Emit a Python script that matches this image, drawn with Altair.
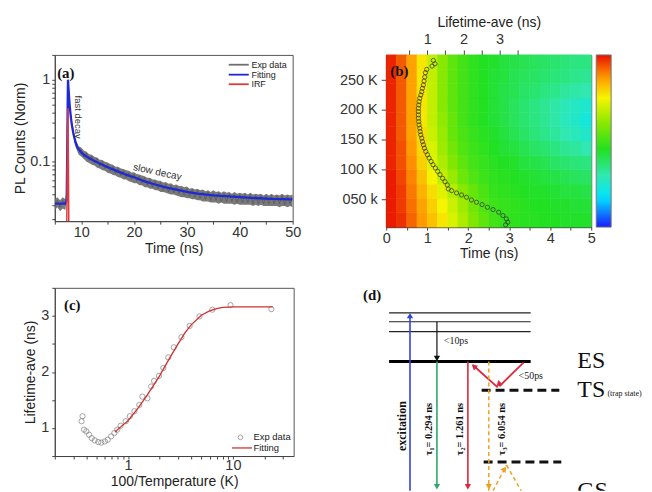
import altair as alt
import pandas as pd

SANS = "Liberation Sans"
SERIF = "Liberation Serif"

# ---------------- (a) PL decay ----------------
exp_t = [5.0, 5.5, 6.0, 6.5, 7.0, 7.25, 7.4, 7.5, 7.6, 7.8, 8.0, 8.2, 8.5, 8.8, 9.1, 9.5,
         10.0, 10.5, 11.0, 11.5, 12.0, 12.5, 13.0, 13.5, 14.0, 14.5, 15.0, 15.5, 16.0, 16.5,
         17.0, 17.5, 18.0, 18.5, 19.0, 19.5, 20.0, 20.5, 21.0, 21.5, 22.0, 22.5, 23.0, 23.5,
         24.0, 24.5, 25.0, 25.5, 26.0, 26.5, 27.0, 27.5, 28.0, 28.5, 29.0, 29.5, 30.0, 30.5,
         31.0, 31.5, 32.0, 32.5, 33.0, 33.5, 34.0, 34.5, 35.0, 35.5, 36.0, 36.5, 37.0, 37.5,
         38.0, 38.5, 39.0, 39.5, 40.0, 40.5, 41.0, 41.5, 42.0, 42.5, 43.0, 43.5, 44.0, 44.5,
         45.0, 45.5, 46.0, 46.5, 47.0, 47.5, 48.0, 48.5, 49.0, 49.5, 50.0]
exp_hi = [0.035, 0.037, 0.034, 0.037, 0.035, 0.046, 0.33, 1.02, 0.84, 0.55, 0.41, 0.33, 0.255, 0.20, 0.178, 0.155,
          0.150, 0.137, 0.133, 0.124, 0.122, 0.115, 0.113, 0.106, 0.105, 0.100, 0.098, 0.094, 0.092, 0.087,
          0.087, 0.083, 0.082, 0.079, 0.078, 0.074, 0.075, 0.071, 0.070, 0.068, 0.067, 0.064, 0.064, 0.061,
          0.061, 0.059, 0.059, 0.056, 0.057, 0.054, 0.055, 0.052, 0.053, 0.051, 0.051, 0.049, 0.050, 0.047,
          0.048, 0.046, 0.047, 0.045, 0.046, 0.044, 0.045, 0.043, 0.045, 0.043, 0.044, 0.042, 0.044, 0.042,
          0.043, 0.041, 0.043, 0.041, 0.042, 0.041, 0.042, 0.040, 0.042, 0.040, 0.041, 0.040, 0.041, 0.039,
          0.041, 0.039, 0.041, 0.039, 0.040, 0.039, 0.041, 0.039, 0.040, 0.039, 0.040]
exp_lo = [0.026, 0.028, 0.025, 0.027, 0.026, 0.034, 0.26, 0.94, 0.74, 0.47, 0.35, 0.27, 0.21, 0.16, 0.142, 0.123,
          0.116, 0.108, 0.100, 0.097, 0.092, 0.090, 0.085, 0.083, 0.079, 0.078, 0.073, 0.072, 0.069, 0.068,
          0.065, 0.064, 0.061, 0.061, 0.058, 0.057, 0.055, 0.055, 0.052, 0.052, 0.049, 0.049, 0.047, 0.047,
          0.045, 0.045, 0.043, 0.043, 0.042, 0.041, 0.040, 0.040, 0.039, 0.038, 0.037, 0.037, 0.036, 0.036,
          0.035, 0.035, 0.034, 0.034, 0.033, 0.033, 0.033, 0.032, 0.032, 0.032, 0.031, 0.032, 0.031, 0.031,
          0.031, 0.031, 0.030, 0.031, 0.030, 0.030, 0.030, 0.030, 0.030, 0.029, 0.030, 0.029, 0.030, 0.029,
          0.029, 0.029, 0.029, 0.029, 0.029, 0.028, 0.029, 0.029, 0.028, 0.029, 0.028]
exp_v = [0.029, 0.034, 0.028, 0.034, 0.030, 0.042, 0.30, 0.98, 0.80, 0.52, 0.38, 0.30, 0.235, 0.18, 0.16, 0.14,
         0.142, 0.114, 0.128, 0.104, 0.118, 0.096, 0.110, 0.088, 0.101, 0.083, 0.094, 0.077, 0.088, 0.072,
         0.083, 0.068, 0.078, 0.064, 0.074, 0.061, 0.071, 0.058, 0.067, 0.055, 0.064, 0.052, 0.061, 0.049,
         0.058, 0.047, 0.056, 0.045, 0.054, 0.043, 0.052, 0.042, 0.050, 0.041, 0.048, 0.039, 0.047, 0.038,
         0.046, 0.037, 0.045, 0.036, 0.043, 0.035, 0.043, 0.034, 0.042, 0.034, 0.042, 0.033, 0.041, 0.033,
         0.041, 0.033, 0.040, 0.032, 0.040, 0.032, 0.040, 0.032, 0.040, 0.031, 0.039, 0.031, 0.039, 0.031,
         0.039, 0.031, 0.039, 0.031, 0.039, 0.031, 0.039, 0.030, 0.038, 0.031, 0.038]
fit_a_t = [5, 6, 7, 7.25, 7.35, 7.45, 7.5, 7.6, 7.8, 8.0, 8.2, 8.5, 8.9, 9.3, 9.8, 10.5, 11, 12, 13, 14,
           15, 16, 17, 18, 19, 20, 22, 24, 26, 28, 30, 32, 35, 38, 42, 46, 50]
fit_a_v = [0.031, 0.031, 0.031, 0.034, 0.12, 0.6, 1.0, 0.78, 0.50, 0.37, 0.29, 0.225, 0.175, 0.15, 0.135,
           0.122, 0.116, 0.107, 0.099, 0.092, 0.086, 0.081, 0.076, 0.072, 0.068, 0.065, 0.058, 0.053,
           0.049, 0.046, 0.043, 0.041, 0.039, 0.038, 0.0365, 0.0355, 0.035]
irf_t = [7.2, 7.3, 7.4, 7.5, 7.6, 7.7]
irf_v = [0.005, 0.03, 0.2, 0.45, 0.06, 0.005]
a_series = ["Exp data", "Fitting", "IRF"]
a_colors = ["#6f6f6f", "#1f2ad6", "#e23a3a"]
a_leg_x1 = [37.9, 37.9, 37.9]
a_leg_x2 = [41.7, 41.7, 41.7]
a_leg_y = [1.52, 1.15, 0.88]
a_leg_tx = [42.2, 42.2, 42.2]

a_yticks = [0.02, 0.03, 0.04, 0.05, 0.06, 0.07, 0.08, 0.09, 0.1, 0.2, 0.3, 0.4, 0.5, 0.6, 0.7, 0.8, 0.9, 1, 2]
a_xticks = [5, 10, 15, 20, 25, 30, 35, 40, 45, 50]

# ---------------- (b) heat map ----------------
hm_t_edges = [0.0, 0.25, 0.5, 0.75, 1.0, 1.25, 1.5, 1.75, 2.0, 2.25, 2.5, 2.75, 3.0, 3.25, 3.5,
              3.75, 4.0, 4.25, 4.5, 4.75, 5.0]
hm_T_edges = [4, 28, 52, 76, 100, 124, 148, 172, 196, 220, 244, 268, 292]
hm_rows = [
    [0.99, 0.97, 0.92, 0.87, 0.82, 0.77, 0.71, 0.65, 0.59, 0.54, 0.50, 0.48, 0.47, 0.46, 0.46, 0.45, 0.45, 0.44, 0.44, 0.44],
    [0.99, 0.96, 0.91, 0.86, 0.80, 0.75, 0.69, 0.63, 0.57, 0.52, 0.49, 0.48, 0.47, 0.46, 0.45, 0.45, 0.44, 0.44, 0.43, 0.43],
    [0.99, 0.96, 0.90, 0.84, 0.78, 0.72, 0.66, 0.60, 0.55, 0.51, 0.48, 0.47, 0.46, 0.45, 0.44, 0.44, 0.43, 0.42, 0.42, 0.41],
    [0.99, 0.95, 0.89, 0.82, 0.75, 0.68, 0.62, 0.56, 0.52, 0.49, 0.47, 0.46, 0.45, 0.44, 0.43, 0.42, 0.41, 0.40, 0.39, 0.38],
    [0.98, 0.94, 0.88, 0.80, 0.72, 0.65, 0.59, 0.54, 0.50, 0.48, 0.46, 0.45, 0.44, 0.42, 0.41, 0.40, 0.38, 0.37, 0.36, 0.35],
    [0.98, 0.94, 0.87, 0.79, 0.71, 0.63, 0.57, 0.52, 0.49, 0.47, 0.45, 0.43, 0.42, 0.40, 0.38, 0.37, 0.35, 0.33, 0.32, 0.30],
    [0.98, 0.93, 0.86, 0.78, 0.69, 0.62, 0.55, 0.51, 0.48, 0.46, 0.44, 0.42, 0.40, 0.38, 0.36, 0.34, 0.32, 0.30, 0.28, 0.26],
    [0.98, 0.93, 0.86, 0.77, 0.68, 0.61, 0.55, 0.50, 0.47, 0.45, 0.43, 0.41, 0.39, 0.37, 0.35, 0.33, 0.31, 0.28, 0.26, 0.23],
    [0.98, 0.93, 0.86, 0.77, 0.68, 0.60, 0.54, 0.50, 0.47, 0.45, 0.43, 0.41, 0.39, 0.37, 0.35, 0.33, 0.31, 0.29, 0.27, 0.25],
    [0.98, 0.93, 0.86, 0.77, 0.68, 0.60, 0.54, 0.50, 0.47, 0.45, 0.43, 0.41, 0.40, 0.38, 0.37, 0.35, 0.34, 0.32, 0.31, 0.30],
    [0.98, 0.93, 0.86, 0.77, 0.68, 0.60, 0.54, 0.50, 0.47, 0.45, 0.43, 0.42, 0.40, 0.39, 0.38, 0.37, 0.36, 0.35, 0.34, 0.33],
    [0.98, 0.93, 0.86, 0.77, 0.68, 0.60, 0.54, 0.50, 0.47, 0.45, 0.44, 0.42, 0.41, 0.40, 0.39, 0.38, 0.37, 0.36, 0.35, 0.35],
]
hm_stops = [0.0, 0.17, 0.30, 0.45, 0.60, 0.75, 0.87, 1.0]
hm_colors = ["#1a1aff", "#00e6ff", "#30e8b0", "#22e022", "#88e800", "#f5f500", "#ff9a00", "#e81000"]

b_lifetime = [1.166, 1.212, 1.129, 0.983, 0.946, 0.928, 0.909, 0.890, 0.863, 0.845, 0.818, 0.790, 0.771,
              0.762, 0.753, 0.753, 0.753, 0.753, 0.762, 0.771, 0.790, 0.799, 0.818, 0.845, 0.863, 0.890,
              0.918, 0.956, 1.001, 1.047, 1.102, 1.157, 1.221, 1.286, 1.350, 1.423, 1.488, 1.551, 1.579,
              1.672, 1.809, 1.947, 2.085, 2.222, 2.360, 2.515, 2.663, 2.818, 2.975, 3.094, 3.187, 3.231, 3.168]
b_temp = [282.8, 277.2, 273.3, 267.8, 262.2, 255.0, 248.3, 241.7, 236.1, 230.5, 225.0, 219.5, 213.8,
          208.3, 202.8, 197.2, 191.7, 186.1, 180.5, 175.0, 169.5, 163.8, 158.3, 152.8, 147.2, 141.7,
          136.1, 130.5, 125.0, 119.5, 113.8, 108.3, 102.8, 97.2, 91.7, 85.6, 80.0, 74.4, 67.8,
          65.0, 61.1, 57.8, 53.9, 49.4, 45.6, 41.7, 37.2, 33.3, 28.9, 23.3, 17.8, 12.2, 7.8]

# ---------------- (c) lifetime vs 100/T ----------------
c_x = [0.368, 0.36, 0.38, 0.40, 0.425, 0.45, 0.48, 0.52, 0.555, 0.60, 0.64, 0.69, 0.74, 0.79, 0.85,
       0.95, 1.04, 1.15, 1.28, 1.37, 1.53, 1.66, 1.77, 1.97, 2.17, 2.42, 2.73, 3.23, 3.87, 4.8, 6.37, 9.5, 23.3]
c_y = [1.21, 1.12, 0.97, 0.94, 0.88, 0.82, 0.78, 0.75, 0.74, 0.76, 0.79, 0.85, 0.91, 0.97, 1.04,
       1.12, 1.21, 1.30, 1.41, 1.56, 1.53, 1.74, 1.84, 1.93, 2.07, 2.26, 2.44, 2.62, 2.82, 2.99, 3.11, 3.19, 3.12]
fit_c_x = [0.75, 0.85, 1.0, 1.25, 1.5, 1.75, 2.0, 2.5, 3.0, 3.5, 4.0, 5.0, 6.0, 7.0, 8.0, 10.0, 15.0, 24.0]
fit_c_y = [0.93, 1.02, 1.13, 1.36, 1.57, 1.76, 1.93, 2.25, 2.50, 2.70, 2.84, 3.01, 3.09, 3.13, 3.15, 3.16, 3.16, 3.16]
c_xticks = [0.2, 0.3, 0.4, 0.5, 0.6, 0.7, 0.8, 0.9, 1, 2, 3, 4, 5, 6, 7, 8, 9, 10, 20, 30]
c_yticks = [0.5, 1, 1.5, 2, 2.5, 3, 3.5]

# ---------------- (d) energy-level scheme ----------------
seg_x1 = [12.8, 12.8, 12.8, 12.8, 20.1, 29.5, 29.5, 40.3, 59.7, 50.7]
seg_y1 = [87.7, 83.3, 78.4, 63.7, -5.0, 83.3, 63.7, 63.7, 63.2, 51.0]
seg_x2 = [62.2, 62.2, 62.2, 62.2, 20.1, 29.5, 29.5, 40.3, 51.3, 42.0]
seg_y2 = [87.7, 83.3, 78.4, 63.7, 86.0, 66.0, 3.0, 3.0, 51.5, 62.0]
seg_col = ["#222222", "#222222", "#222222", "#000000", "#3344dd", "#111111", "#2da866", "#e0263a", "#e0263a", "#e0263a"]
seg_w = [1.2, 1.2, 1.2, 3.0, 1.6, 1.2, 1.6, 1.6, 1.8, 1.8]
dash_x1 = [45.1, 45.8]
dash_x2 = [72.2, 72.9]
dash_y = [49.5, 14.2]
or_x1 = [47.6, 47.9, 53.8]
or_y1 = [63.7, -3.0, 12.7]
or_x2 = [47.6, 53.8, 60.1]
or_y2 = [-5.0, 12.7, -3.0]
ah_x = [20.1, 29.5, 29.5, 40.3, 51.0, 42.4, 53.1, 47.6]
ah_y = [86.3, 65.2, 2.0, 2.0, 52.5, 61.3, 10.8, 2.0]
ah_ang = [0, 180, 180, 180, 226, 311, 35, 180]
ah_col = ["#3344dd", "#111111", "#2da866", "#e0263a", "#e0263a", "#e0263a", "#f0a020", "#f0a020"]
lvl_text = ["ES", "TS"]
lvl_x = [78.5, 78.5]
lvl_y = [63.7, 49.5]
rot_text = ["excitation", "τ\u2081= 0.294 ns", "τ\u2082= 1.261 ns", "τ\u2083= 6.054 ns"]
rot_x = [17.4, 26.7, 37.5, 52.1]
rot_y = [31.9, 30.4, 30.4, 30.4]
rot_size = [12, 10.5, 10.5, 10.5]
ps_text = ["<10ps", "<50ps"]
ps_x = [31.9, 58.0]
ps_y = [74.0, 56.4]


def ax(**kw):
    base = dict(labelFont=SANS, labelFontSize=14.5, labelColor="#333333", titleFont=SANS,
                titleFontSize=14, titleFontWeight="normal", titleColor="#222222",
                domainColor="#444444", tickColor="#444444", grid=False, labelFlush=False,
                labelOverlap=False, tickSize=3, labelPadding=1, format="~g")
    base.update(kw)
    return alt.Axis(**base)


# ======== panel (a) ========
xa = alt.X("t:Q", scale=alt.Scale(domain=[5, 50], nice=False),
           axis=ax(values=a_xticks, labelExpr="datum.value % 10 == 0 ? datum.label : ''",
                   title="Time (ns)", titlePadding=3))
ya = alt.Y("v:Q", scale=alt.Scale(type="log", domain=[0.019, 2], nice=False),
           axis=ax(values=a_yticks,
                   labelExpr="(datum.value == 0.1 || datum.value == 1) ? datum.label : ''",
                   title="PL Counts (Norm)", labelPadding=2, titlePadding=2))

df_exp = pd.DataFrame({"t": exp_t, "v": exp_lo, "v2": exp_hi, "m": exp_v})
df_fit_a = pd.DataFrame({"t": fit_a_t, "v": fit_a_v})
df_irf = pd.DataFrame({"t": irf_t, "v": irf_v})
df_leg_ar = pd.DataFrame({"t": a_leg_x1, "t2": a_leg_x2, "v": a_leg_y, "col": a_colors})
df_leg_at = pd.DataFrame({"t": a_leg_tx, "v": a_leg_y, "label": a_series})

la_band = alt.Chart(df_exp).mark_area(color="#6a6a6a", opacity=0.9, clip=True).encode(
    x=xa, y=ya, y2="v2:Q")
la_exp = alt.Chart(df_exp).mark_line(color="#5a5a5a", strokeWidth=0.8, clip=True).encode(
    x=xa, y=alt.Y("m:Q", scale=alt.Scale(type="log", domain=[0.019, 2], nice=False)))
la_fit = alt.Chart(df_fit_a).mark_line(color=a_colors[1], strokeWidth=2.3, clip=True).encode(x=xa, y=ya)
la_irf = alt.Chart(df_irf).mark_line(color=a_colors[2], strokeWidth=1.5, clip=True).encode(x=xa, y=ya)
la_leg_r = alt.Chart(df_leg_ar).mark_rule(strokeWidth=1.8).encode(
    x=xa, x2="t2:Q", y=ya, color=alt.Color("col:N", scale=None))
la_leg_t = alt.Chart(df_leg_at).mark_text(align="left", baseline="middle", font=SANS, fontSize=9,
                                          color="#222222").encode(x=xa, y=ya, text="label:N")
df_ta = pd.DataFrame({"t": [5.45], "v": [1.22], "label": ["(a)"]})
la_lab = alt.Chart(df_ta).mark_text(align="left", baseline="middle", font=SERIF, fontWeight="bold",
                                    fontSize=15, color="#111111").encode(x=xa, y=ya, text="label:N")
df_fast = pd.DataFrame({"t": [9.45], "v": [0.35], "label": ["fast decay"]})
la_fast = alt.Chart(df_fast).mark_text(angle=90, font=SANS, fontSize=9.5, color="#333333").encode(
    x=xa, y=ya, text="label:N")
df_slow = pd.DataFrame({"t": [24.4], "v": [0.075], "label": ["slow decay"]})
la_slow = alt.Chart(df_slow).mark_text(angle=12, font=SANS, fontSize=10, color="#333333").encode(
    x=xa, y=ya, text="label:N")

panel_a = alt.layer(la_band, la_exp, la_fit, la_irf, la_leg_r, la_leg_t, la_lab, la_fast,
                    la_slow).properties(width=239, height=167)

# ======== panel (b) ========
cells = []
for i, row in enumerate(hm_rows):
    for j, val in enumerate(row):
        cells.append({"t0": hm_t_edges[j], "t1": hm_t_edges[j + 1],
                      "T0": hm_T_edges[i], "T1": hm_T_edges[i + 1], "val": val})
df_hm = pd.DataFrame(cells)
cs = alt.Scale(domain=hm_stops, range=hm_colors, interpolate="rgb")

xb = alt.X("t0:Q", scale=alt.Scale(domain=[0, 5], nice=False),
           axis=ax(values=[0, 0.5, 1, 1.5, 2, 2.5, 3, 3.5, 4, 4.5, 5],
                   labelExpr="datum.value % 1 == 0 ? datum.label : ''",
                   title="Time (ns)", titlePadding=2))
yb = alt.Y("T0:Q", scale=alt.Scale(domain=[4, 292], nice=False, zero=False),
           axis=ax(values=[50, 100, 150, 200, 250],
                   labelExpr="datum.value == 50 ? '050 k' : datum.value + ' K'",
                   title=None, tickSize=5, labelPadding=4))
xtop = alt.X("lt:Q", scale=alt.Scale(domain=[-0.14, 5.54], nice=False, zero=False),
             axis=ax(orient="top", values=[0.5, 1, 1.5, 2, 2.5, 3, 3.5],
                     labelExpr="datum.value % 1 == 0 ? datum.label : ''",
                     title="Lifetime-ave (ns)", tickSize=5, labelPadding=3, titlePadding=3,
                     domain=False))

lb_rect = alt.Chart(df_hm).mark_rect(strokeWidth=0.6).encode(
    x=xb, x2="t1:Q", y=yb, y2="T1:Q",
    color=alt.Color("val:Q", scale=cs,
                    legend=alt.Legend(orient="right", offset=5, title=None, labelExpr="''",
                                      gradientLength=173, gradientThickness=15,
                                      gradientStrokeColor="#777777", gradientStrokeWidth=1,
                                      direction="vertical", padding=0)),
    stroke=alt.Stroke("val:Q", scale=cs, legend=None))
df_bp = pd.DataFrame({"lt": b_lifetime, "T0": b_temp})
lb_pts = alt.Chart(df_bp).mark_point(filled=False, size=18, strokeWidth=1, color="#2a2a2a").encode(
    x=xtop, y=yb)
df_tb = pd.DataFrame({"t0": [0.1], "T0": [265], "label": ["(b)"]})
lb_lab = alt.Chart(df_tb).mark_text(align="left", baseline="middle", font=SERIF, fontWeight="bold",
                                    fontSize=15, color="#111111").encode(
    x=alt.X("t0:Q", scale=alt.Scale(domain=[0, 5], nice=False), axis=None), y=yb, text="label:N")

panel_b = alt.layer(lb_rect, lb_pts, lb_lab).resolve_scale(x="independent").properties(
    width=206, height=173)

# ======== panel (c) ========
xc = alt.X("x:Q", scale=alt.Scale(type="log", domain=[0.2, 38], nice=False),
           axis=ax(values=c_xticks,
                   labelExpr="(datum.value == 1 || datum.value == 10) ? datum.label : ''",
                   title="100/Temperature (K)", labelPadding=0, titlePadding=2))
yc = alt.Y("y:Q", scale=alt.Scale(domain=[0.5, 3.5], nice=False, zero=False),
           axis=ax(values=c_yticks, labelExpr="datum.value % 1 == 0 ? datum.label : ''",
                   title="Lifetime-ave (ns)", labelPadding=3, titlePadding=3))
df_c = pd.DataFrame({"x": c_x, "y": c_y})
df_cf = pd.DataFrame({"x": fit_c_x, "y": fit_c_y})
lc_pts = alt.Chart(df_c).mark_point(filled=False, size=28, strokeWidth=0.9, color="#707070").encode(x=xc, y=yc)
lc_fit = alt.Chart(df_cf).mark_line(strokeWidth=1.3, color="#d03030").encode(x=xc, y=yc)
df_lc_p = pd.DataFrame({"x": [11.8], "y": [0.833]})
lc_leg_p = alt.Chart(df_lc_p).mark_point(filled=False, size=22, strokeWidth=0.9, color="#707070").encode(x=xc, y=yc)
df_lc_r = pd.DataFrame({"x": [9.8], "x2": [15.2], "y": [0.644]})
lc_leg_r = alt.Chart(df_lc_r).mark_rule(strokeWidth=1.3, color="#d03030").encode(x=xc, x2="x2:Q", y=yc)
df_lc_t = pd.DataFrame({"x": [15.7, 15.7], "y": [0.833, 0.644], "label": ["Exp data", "Fitting"]})
lc_leg_t = alt.Chart(df_lc_t).mark_text(align="left", baseline="middle", font=SANS, fontSize=9.5,
                                        color="#222222").encode(x=xc, y=yc, text="label:N")
df_tc = pd.DataFrame({"x": [0.245], "y": [3.2], "label": ["(c)"]})
lc_lab = alt.Chart(df_tc).mark_text(align="left", baseline="middle", font=SERIF, fontWeight="bold",
                                    fontSize=15, color="#111111").encode(x=xc, y=yc, text="label:N")

panel_c = alt.layer(lc_pts, lc_fit, lc_leg_p, lc_leg_r, lc_leg_t, lc_lab).properties(width=240, height=169)

# ======== panel (d) ========
xd = alt.X("x:Q", scale=alt.Scale(domain=[0, 101.4], nice=False, zero=False), axis=None)
yd = alt.Y("y:Q", scale=alt.Scale(domain=[0, 100], nice=False, zero=False), axis=None)

df_seg = pd.DataFrame({"x": seg_x1, "y": seg_y1, "x2": seg_x2, "y2": seg_y2, "col": seg_col, "w": seg_w})
ld_seg = alt.Chart(df_seg).mark_rule(clip=True).encode(
    x=xd, y=yd, x2="x2:Q", y2="y2:Q", color=alt.Color("col:N", scale=None),
    strokeWidth=alt.StrokeWidth("w:Q", scale=None))
df_dash = pd.DataFrame({"x": dash_x1, "x2": dash_x2, "y": dash_y})
ld_dash = alt.Chart(df_dash).mark_rule(clip=True, strokeWidth=3, strokeDash=[9, 5], color="#111111").encode(
    x=xd, x2="x2:Q", y=yd)
df_or = pd.DataFrame({"x": or_x1, "y": or_y1, "x2": or_x2, "y2": or_y2})
ld_or = alt.Chart(df_or).mark_rule(clip=True, strokeWidth=1.5, strokeDash=[4, 3], color="#f0a020").encode(
    x=xd, y=yd, x2="x2:Q", y2="y2:Q")
df_ah = pd.DataFrame({"x": ah_x, "y": ah_y, "a": ah_ang, "col": ah_col})
ld_ah = alt.Chart(df_ah).mark_point(shape="triangle-up", filled=True, size=40, opacity=1, clip=True).encode(
    x=xd, y=yd, angle=alt.Angle("a:Q", scale=None), color=alt.Color("col:N", scale=None))
df_lvl = pd.DataFrame({"x": lvl_x, "y": lvl_y, "label": lvl_text})
ld_lvl = alt.Chart(df_lvl).mark_text(align="left", baseline="middle", font=SERIF, fontSize=24,
                                     color="#111111", clip=True).encode(x=xd, y=yd, text="label:N")
df_gs = pd.DataFrame({"x": [78.5], "y": [5.9], "label": ["GS"]})
ld_gs = alt.Chart(df_gs).mark_text(align="left", baseline="top", font=SERIF, fontSize=24,
                                   color="#111111", clip=True).encode(x=xd, y=yd, text="label:N")
df_trap = pd.DataFrame({"x": [89.0], "y": [47.5], "label": ["(trap state)"]})
ld_trap = alt.Chart(df_trap).mark_text(align="left", baseline="middle", font=SERIF, fontSize=8,
                                       color="#111111", clip=True).encode(x=xd, y=yd, text="label:N")
df_ps = pd.DataFrame({"x": ps_x, "y": ps_y, "label": ps_text})
ld_ps = alt.Chart(df_ps).mark_text(align="left", baseline="middle", font=SERIF, fontSize=10,
                                   color="#222222", clip=True).encode(x=xd, y=yd, text="label:N")
df_rot = pd.DataFrame({"x": rot_x, "y": rot_y, "label": rot_text, "fs": rot_size})
ld_rot = alt.Chart(df_rot).mark_text(angle=270, align="center", baseline="middle", font=SERIF,
                                     fontWeight="bold", color="#111111", clip=True).encode(
    x=xd, y=yd, text="label:N", size=alt.Size("fs:Q", scale=None))
df_td = pd.DataFrame({"x": [6.9], "y": [96.6], "label": ["(d)"]})
ld_lab = alt.Chart(df_td).mark_text(align="center", baseline="middle", font=SERIF, fontWeight="bold",
                                    fontSize=15, color="#111111", clip=True).encode(x=xd, y=yd, text="label:N")

panel_d = alt.layer(ld_seg, ld_dash, ld_or, ld_ah, ld_lvl, ld_gs, ld_trap, ld_ps, ld_rot, ld_lab).properties(
    width=292, height=204, view=alt.ViewBackground(stroke="transparent"))

row1 = alt.hconcat(panel_a, panel_b, spacing=37).resolve_scale(color="independent")
row2 = alt.hconcat(panel_c, panel_d, spacing=57).resolve_scale(color="independent")
chart = alt.vconcat(row1, row2, spacing=18).resolve_scale(color="independent").properties(
    padding={"left": 5, "top": 5, "right": 0, "bottom": 0},
    background="white",
).configure_view(stroke="#555555", strokeWidth=1)

chart.save("out.html", embed_options={"renderer": "svg", "actions": False})
